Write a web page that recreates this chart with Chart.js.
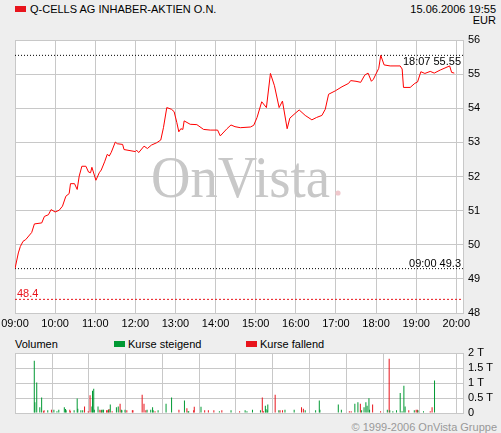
<!DOCTYPE html>
<html>
<head>
<meta charset="utf-8">
<script src="https://cdn.jsdelivr.net/npm/chart.js@4.4.1/dist/chart.umd.min.js"></script>
<style>
  body {
    margin: 0;
    width: 501px;
    height: 433px;
    overflow: hidden;
    position: relative;
    background: #eeeeee;
    font-family: "Liberation Sans", Arial, sans-serif;
    font-size: 11px;
    color: #000;
  }
  canvas { position: absolute; left: 0; }
  #priceChart { top: 0; }
  #volChart { top: 333px; }
  .txt { position: absolute; white-space: nowrap; line-height: 12px; }
  .box { position: absolute; width: 11px; height: 6px; }
</style>
</head>
<body>
<div class="box" style="left:15px;top:6px;background:#e8141c"></div>
<div class="txt" style="left:30px;top:3px">Q-CELLS AG INHABER-AKTIEN O.N.</div>
<div class="txt" style="right:5px;top:3px;text-align:right">15.06.2006 19:55</div>
<div class="txt" style="right:5px;top:14px;text-align:right">EUR</div>

<div class="txt" style="left:15px;top:338px">Volumen</div>
<div class="box" style="left:114px;top:341px;background:#009933"></div>
<div class="txt" style="left:128px;top:338px">Kurse steigend</div>
<div class="box" style="left:246px;top:341px;background:#e8141c"></div>
<div class="txt" style="left:260px;top:338px">Kurse fallend</div>

<div class="txt" style="right:4px;top:421px;color:#999">© 1999-2006 OnVista Gruppe</div>

<canvas id="priceChart" width="501" height="333"></canvas>
<canvas id="volChart" width="501" height="100"></canvas>

<script>
// hour ticks on both charts
const hourLabels = ["09:00", "10:00", "11:00", "12:00", "13:00", "14:00",
  "15:00", "16:00", "17:00", "18:00", "19:00", "20:00"];
const axisEnd = 670; // minutes after 09:00 at the right edge

// price (minutes after 09:00)
const priceMinutes = [0, 5, 8, 12, 16, 25, 29, 40, 44, 50, 54, 60, 66, 71, 76, 81, 83, 89, 93, 96,
  100, 106, 110, 113, 115, 121, 126, 129, 134, 138, 141, 144, 150, 153, 161, 163, 180, 182, 185, 193,
  198, 204, 212, 218, 222, 227, 234, 238, 242, 245, 248, 251, 253, 262, 272, 282, 292, 303, 307, 317,
  323, 329, 337, 352, 357, 362, 369, 376, 382, 388, 395, 400, 407, 411, 419, 425, 434, 444, 451, 459,
  464, 469, 479, 489, 499, 502, 510, 517, 523, 528, 533, 536, 544, 547, 552, 561, 576, 579, 581, 591,
  598, 602, 607, 613, 621, 627, 636, 650, 653, 657];
const priceValues = [49.3, 49.76, 49.95, 50.1, 50.15, 50.36, 50.61, 50.64, 50.83, 50.88, 51.03, 50.96,
  51.01, 51.13, 51.42, 51.5, 51.79, 51.79, 51.62, 52.01, 52.3, 52.3, 52.13, 52.11, 52.27, 51.89, 52.11,
  52.19, 52.43, 52.65, 52.6, 52.71, 53.01, 52.96, 52.94, 52.79, 52.73, 52.77, 52.7, 52.89, 52.82, 52.92,
  52.99, 53.07, 53.43, 54.02, 53.97, 53.9, 53.58, 53.31, 53.4, 53.38, 53.63, 53.53, 53.52, 53.38, 53.36,
  53.36, 53.19, 53.4, 53.51, 53.46, 53.43, 53.45, 53.5, 53.73, 54.19, 54.02, 55.02, 54.66, 54.02, 54.21,
  53.4, 53.71, 53.85, 53.95, 53.79, 53.66, 53.73, 53.79, 53.97, 54.41, 54.51, 54.63, 54.73, 54.81, 54.79,
  54.76, 54.97, 55.03, 54.79, 54.85, 55.17, 55.55, 55.27, 55.24, 55.24, 55.15, 54.61, 54.61, 54.73, 54.77,
  55.07, 55.02, 55.08, 55.03, 55.12, 55.24, 55.05, 55.03];

const highTime = "18:07";
const highValue = 55.55;
const startTime = "09:00";
const startValue = 49.3;
const prevClose = 48.4;

// volume, thousands
const upMinutes = [1, 2, 5, 10, 13, 23, 33, 38, 41, 50, 52, 53, 66, 71, 72, 77, 80, 95, 96, 98, 99, 105,
  111, 113, 114, 122, 125, 135, 138, 143, 144, 149, 185, 191, 194, 195, 203, 216, 225, 246, 252, 253, 273,
  303, 322, 345, 348, 357, 370, 378, 379, 381, 382, 400, 410, 425, 443, 460, 466, 467, 497, 502, 524, 529,
  535, 539, 542, 544, 547, 548, 577, 581, 586, 592, 598, 601, 604, 606, 621, 627, 636, 654];
const upVolume = [1.74, 0.36, 1.02, 0.19, 0.52, 0.09, 0.11, 0.06, 0.11, 0.19, 0.13, 0.09, 0.09, 0.48, 0.14,
  0.09, 0.09, 0.22, 0.74, 0.81, 0.11, 0.22, 0.11, 0.11, 0.11, 0.11, 0.28, 0.19, 0.22, 0.11, 0.09, 0.11, 0.11,
  0.11, 0.19, 0.09, 0.09, 0.31, 0.52, 0.42, 0.06, 0.06, 0.21, 0.06, 0.09, 0.09, 0.06, 0.11, 0.09, 0.24, 0.13,
  0.09, 0.28, 0.09, 0.11, 0.11, 0.09, 0.09, 0.42, 0.11, 0.28, 0.11, 0.31, 0.36, 0.09, 0.19, 0.36, 0.24, 0.49,
  0.11, 0.11, 0.09, 0.06, 0.09, 0.67, 0.06, 0.91, 0.22, 0.09, 0.09, 0.06, 1.08];
const downMinutes = [16, 17, 29, 59, 60, 83, 89, 92, 108, 110, 119, 120, 123, 128, 141, 152, 161, 162, 177,
  180, 183, 198, 237, 250, 261, 262, 279, 285, 294, 307, 336, 373, 375, 394, 402, 406, 437, 440, 515, 518,
  533, 553, 566, 580, 612, 624, 626, 647, 650];
const downVolume = [0.06, 0.09, 0.11, 0.11, 0.06, 0.22, 0.06, 0.59, 0.11, 0.09, 0.09, 0.09, 0.13, 0.06, 0.31,
  0.09, 0.09, 0.09, 0.61, 0.31, 0.09, 0.06, 0.11, 0.16, 0.09, 0.21, 0.09, 0.09, 0.09, 0.09, 0.06, 0.52, 0.06,
  0.61, 0.09, 0.09, 0.19, 0.14, 0.06, 0.06, 0.31, 0.28, 0.06, 1.81, 0.09, 0.11, 0.11, 0.06, 0.19];
const volTickValues = [0, 0.5, 1, 1.5, 2];
const volTickLabels = ["0", "0.5 T", "1 T", "1.5 T", "2 T"];

const gridColor = "#c8c8c8";
const tickFont = { family: "'Liberation Sans', Arial, sans-serif", size: 11 };

function toMinutes(hhmm) {
  const [h, m] = hhmm.split(":").map(Number);
  return (h - 9) * 60 + m;
}

function pairs(xs, ys) {
  return xs.map((x, i) => ({ x: x, y: ys[i] }));
}

function flatLine(v) {
  return [{ x: 0, y: v }, { x: axisEnd, y: v }];
}

function hourAxis(showLabels) {
  return {
    type: "linear",
    min: 0,
    max: axisEnd,
    afterBuildTicks: (s) => {
      s.ticks = hourLabels.map((l) => ({ value: toMinutes(l) }));
    },
    afterFit: (s) => {
      s.height = showLabels ? 20 : 0;
      s.paddingLeft = 0;
      s.paddingRight = 0;
    },
    grid: { color: gridColor, drawTicks: false },
    border: { color: gridColor },
    ticks: {
      display: showLabels,
      autoSkip: false,
      maxRotation: 0,
      padding: 4,
      color: "#000",
      font: tickFont,
      callback: (v, i) => hourLabels[i],
    },
  };
}

const plotBackground = {
  id: "plotBackground",
  beforeDraw(chart) {
    const a = chart.chartArea;
    chart.ctx.save();
    chart.ctx.fillStyle = "#fff";
    chart.ctx.fillRect(a.left, a.top, a.right - a.left, a.bottom - a.top);
    chart.ctx.restore();
  },
};

const watermark = {
  id: "watermark",
  beforeDatasetsDraw(chart) {
    const ctx = chart.ctx;
    ctx.save();
    ctx.font = "60px 'Liberation Serif', 'Times New Roman', serif";
    ctx.fillStyle = "#c8c8c8";
    ctx.textBaseline = "alphabetic";
    const w = ctx.measureText("OnVista").width;
    ctx.translate(151, 197);
    ctx.scale(179 / w, 1);
    ctx.fillText("OnVista", 0, 0);
    ctx.restore();
    ctx.save();
    ctx.fillStyle = "#f0c8cc";
    ctx.beginPath();
    ctx.arc(338, 193, 2.6, 0, Math.PI * 2);
    ctx.fill();
    ctx.restore();
  },
};

const lineLabels = {
  id: "lineLabels",
  afterDatasetsDraw(chart) {
    const ctx = chart.ctx;
    const y = chart.scales.y;
    const a = chart.chartArea;
    ctx.save();
    ctx.font = "11px 'Liberation Sans', Arial, sans-serif";
    ctx.textBaseline = "middle";
    ctx.textAlign = "right";
    ctx.fillStyle = "#000";
    ctx.fillText(highTime + " " + highValue, a.right - 2, y.getPixelForValue(highValue) + 7);
    ctx.fillText(startTime + " " + startValue, a.right - 2, y.getPixelForValue(startValue) - 5);
    ctx.textAlign = "left";
    ctx.fillStyle = "#e8141c";
    ctx.fillText(String(prevClose), a.left + 2, y.getPixelForValue(prevClose) - 5);
    ctx.restore();
  },
};

new Chart(document.getElementById("priceChart"), {
  type: "line",
  data: {
    datasets: [
      {
        data: pairs(priceMinutes, priceValues),
        borderColor: "#ff0000",
        borderWidth: 1,
        pointRadius: 0,
        tension: 0,
        order: 0,
      },
      {
        data: flatLine(highValue),
        borderColor: "#000",
        borderWidth: 1,
        borderDash: [1, 2],
        pointRadius: 0,
        order: 1,
      },
      {
        data: flatLine(startValue),
        borderColor: "#000",
        borderWidth: 1,
        borderDash: [1, 2],
        pointRadius: 0,
        order: 1,
      },
      {
        data: flatLine(prevClose),
        borderColor: "#e8141c",
        borderWidth: 1,
        borderDash: [2, 2],
        pointRadius: 0,
        order: 1,
      },
    ],
  },
  options: {
    responsive: false,
    animation: false,
    layout: { padding: { left: 15, top: 40, right: 0, bottom: 0 } },
    plugins: { legend: { display: false }, tooltip: { enabled: false } },
    scales: {
      x: hourAxis(true),
      y: {
        position: "right",
        min: 48,
        max: 56,
        afterFit: (s) => {
          s.width = 38;
          s.paddingTop = 0;
          s.paddingBottom = 0;
        },
        grid: { color: gridColor, drawTicks: false },
        border: { color: gridColor },
        ticks: { stepSize: 1, padding: 5, color: "#000", font: tickFont },
      },
    },
  },
  plugins: [plotBackground, watermark, lineLabels],
});

new Chart(document.getElementById("volChart"), {
  type: "bar",
  data: {
    datasets: [
      {
        data: pairs(upMinutes, upVolume),
        backgroundColor: "#009933",
        barThickness: 1,
        inflateAmount: 0,
        grouped: false,
      },
      {
        data: pairs(downMinutes, downVolume),
        backgroundColor: "#e8141c",
        barThickness: 1,
        inflateAmount: 0,
        grouped: false,
      },
    ],
  },
  options: {
    responsive: false,
    animation: false,
    layout: { padding: { left: 15, top: 20, right: 0, bottom: 20 } },
    plugins: { legend: { display: false }, tooltip: { enabled: false } },
    scales: {
      x: hourAxis(false),
      y: {
        position: "right",
        min: 0,
        max: 2,
        afterBuildTicks: (s) => {
          s.ticks = volTickValues.map((v) => ({ value: v }));
        },
        afterFit: (s) => {
          s.width = 38;
          s.paddingTop = 0;
          s.paddingBottom = 0;
        },
        grid: { color: gridColor, drawTicks: false },
        border: { color: gridColor },
        ticks: {
          autoSkip: false,
          padding: 5,
          color: "#000",
          font: tickFont,
          callback: (v, i) => volTickLabels[i],
        },
      },
    },
  },
  plugins: [plotBackground],
});
</script>
</body>
</html>
